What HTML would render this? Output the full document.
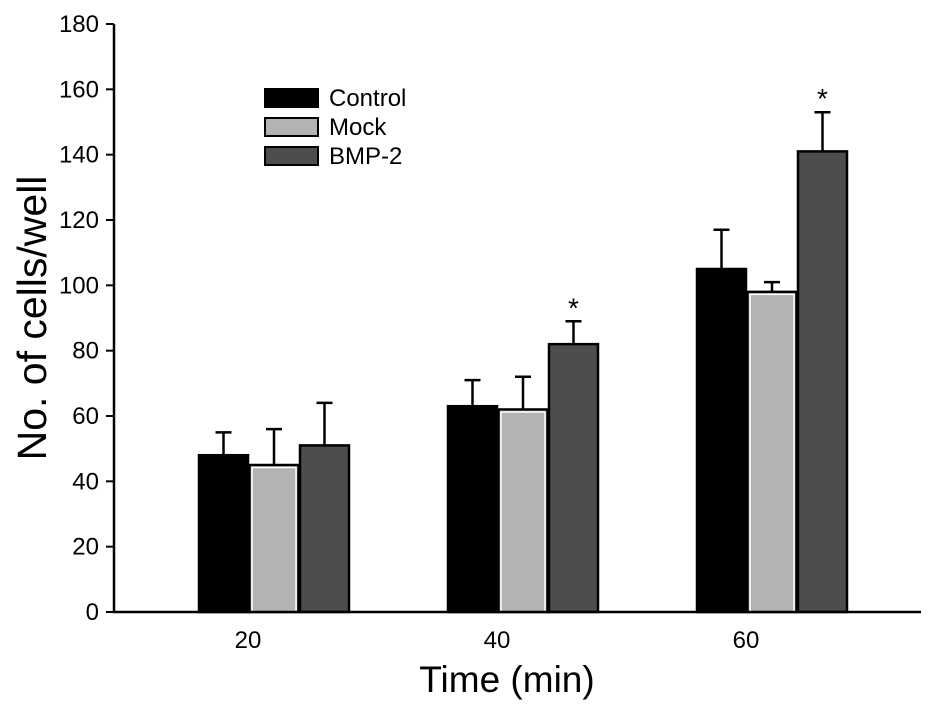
<!DOCTYPE html>
<html><head><meta charset="utf-8"><style>
body{margin:0;background:#fff;width:945px;height:707px;overflow:hidden}
text{font-family:"Liberation Sans",Arial,sans-serif;fill:#000}
</style></head><body>
<svg id="chart" width="945" height="707" viewBox="0 0 945 707"></svg>
<script>
const categories=["20","40","60"];
const seriesNames=["Control","Mock","BMP-2"];
const controlValues=[48,63,105];
const mockValues=[45,62,98];
const bmpValues=[51,82,141];
const controlErr=[7,8,12];
const mockErr=[11,10,3];
const bmpErr=[13,7,12];
const significant=[false,true,true];
const yTicks=[0,20,40,60,80,100,120,140,160,180];

const NS="http://www.w3.org/2000/svg";
const svg=document.getElementById('chart');
const y0=612,yTop=24,yMax=180;
const y=v=>y0-(v/yMax)*(y0-yTop);
const groupX=i=>199+i*249;
const barW=49;
const fills=["#000","#b3b3b3","#4d4d4d"];
function el(t,a){const e=document.createElementNS(NS,t);for(const k in a)e.setAttribute(k,a[k]);svg.appendChild(e);return e;}

const allVals=[controlValues,mockValues,bmpValues];
const allErr=[controlErr,mockErr,bmpErr];
categories.forEach((c,i)=>{
  for(let s=0;s<3;s++){
    const x=groupX(i)+s*50.5;
    const v=allVals[s][i],e=allErr[s][i];
    const cx=x+barW/2;
    const eb=el('path',{d:`M${cx},${y(v)} V${y(v+e)} M${cx-8},${y(v+e)} H${cx+8}`,stroke:'#000','stroke-width':2.5,fill:'none'});
    
    
    const r=el('rect',{x:x,y:y(v),width:barW,height:y0-y(v),fill:fills[s],stroke:'#000','stroke-width':2.5});
    
    
    if(s===1){const inner=el('rect',{x:x+2.5,y:y(v)+2.5,width:barW-5,height:y0-y(v)-3,fill:'none',stroke:'#fff','stroke-width':1.5});
      
      }
  }
  if(significant[i]){
    const v=bmpValues[i]+bmpErr[i];
    const st=el('text',{x:groupX(i)+101+barW/2,y:y(v)-4,'font-size':28,'text-anchor':'middle'});
    st.textContent='*';
    
    
  }
  const t=el('text',{x:groupX(i)+49,y:648,'font-size':24,'text-anchor':'middle'});
  t.textContent=c;
  
  
});
yTicks.forEach(v=>{
  const tk=el('line',{x1:106,x2:114,y1:y(v),y2:y(v),stroke:'#000','stroke-width':2});
  
  
  const t=el('text',{x:99,y:y(v)+8,'font-size':24,'text-anchor':'end'});
  t.textContent=v;
  
  
});
const ya=el('line',{x1:114,x2:114,y1:y(yMax),y2:y0+1,stroke:'#000','stroke-width':2.5});


const xa=el('line',{x1:113,x2:921,y1:y0,y2:y0,stroke:'#000','stroke-width':2.5});


const yt=el('text',{x:0,y:0,'font-size':41,'text-anchor':'middle',transform:'translate(46,318) rotate(-90)'});
yt.textContent='No. of cells/well';


const xt=el('text',{x:507,y:692,'font-size':37,'text-anchor':'middle'});
xt.textContent='Time (min)';


seriesNames.forEach((n,s)=>{
  const ly=89+s*29;
  const r=el('rect',{x:265,y:ly,width:53,height:18,fill:fills[s],stroke:'#000','stroke-width':2});
  
  
  const t=el('text',{x:329,y:ly+17,'font-size':24});
  t.textContent=n;
  
  
});
</script>
</body></html>
